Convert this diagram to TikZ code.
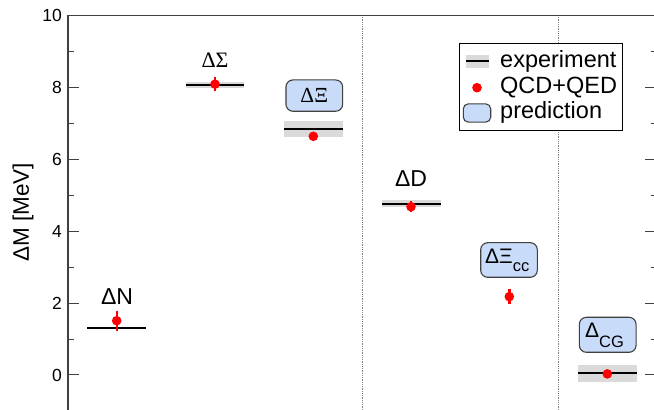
\documentclass[tikz,border=0pt]{standalone}
\usepackage{fontspec}
\setmainfont{Liberation Sans}
\newfontfamily\serifgr{Liberation Serif}
\definecolor{predblue}{HTML}{C8DCFA}
\definecolor{bandgray}{HTML}{DADADA}
\definecolor{axisgray}{HTML}{404040}
\definecolor{ptred}{HTML}{FF0000}
\tikzset{
  axisline/.style={axisgray, line width=1.5pt},
  tickline/.style={axisgray, line width=1pt},
  expline/.style={black, line width=2pt},
  band/.style={fill=bandgray, draw=none},
  errbar/.style={ptred, line width=2.4pt},
  ptdot/.style={fill=ptred, draw=none},
  predbox/.style={draw=black!75, line width=1.1pt, fill=predblue, rounded corners=7pt, inner sep=0pt},
  lbl/.style={font=\fontsize{23}{25}\selectfont, inner sep=0pt},
  ticklbl/.style={font=\fontsize{17.5}{20}\selectfont, anchor=east, inner sep=0pt},
  legtext/.style={font=\fontsize{23.5}{25}\selectfont, anchor=west, inner sep=0pt},
  divline/.style={gray, densely dotted, line width=0.8pt},
}
\begin{document}
\begin{tikzpicture}[x=1pt, y=1pt]
\useasboundingbox (0,0) rectangle (654,410);
\fill[white] (0,0) rectangle (654,410);
\begin{scope}
\clip (0,0) rectangle (654,410);
% divider lines
\draw[divline] (362.3,0) -- (362.3,394.5);
\draw[divline] (558.7,0) -- (558.7,394.5);
% axes
\draw[axisline] (68,0) -- (68,394.5) -- (656,394.5);
\begin{scope}[yshift=35pt, y=35.95pt]
  \foreach \v in {0,2,...,10} {
    \draw[tickline] (68,\v) -- (79,\v);
    \draw[tickline] (645,\v) -- (655,\v);
    \node[ticklbl] at (62,\v) {\v};
  }
  \foreach \v in {1,3,...,9} {
    \draw[tickline] (68,\v) -- (73.5,\v);
    \draw[tickline] (650.5,\v) -- (655,\v);
  }
  % Delta N
  \draw[expline] (87,1.30) -- (146,1.30);
  \draw[errbar] (116.7,1.23) -- (116.7,1.79);
  \fill[ptdot] (116.7,1.51) circle[radius=4.8pt];
  % Delta Sigma
  \fill[band] (185.7,7.99) rectangle (244.3,8.15);
  \draw[expline] (185.7,8.07) -- (244.3,8.07);
  \draw[errbar] (215,7.89) -- (215,8.29);
  \fill[ptdot] (215,8.09) circle[radius=4.8pt];
  % Delta Xi
  \fill[band] (284,6.63) rectangle (343,7.07);
  \draw[expline] (284,6.84) -- (343,6.84);
  \fill[ptdot] (313.3,6.64) circle[radius=4.8pt];
  % Delta D
  \fill[band] (382,4.68) rectangle (440.7,4.86);
  \draw[expline] (382,4.77) -- (440.7,4.77);
  \draw[errbar] (411,4.53) -- (411,4.83);
  \fill[ptdot] (411,4.68) circle[radius=4.8pt];
  % Delta Xi cc
  \draw[errbar] (509.3,1.98) -- (509.3,2.38);
  \fill[ptdot] (509.3,2.18) circle[radius=4.8pt];
  % Delta CG
  \fill[band] (578,-0.19) rectangle (636.7,0.28);
  \draw[expline] (578,0.06) -- (636.7,0.06);
  \fill[ptdot] (607.3,0.03) circle[radius=4.8pt];
\end{scope}
\end{scope}
% axis label
\node[lbl, font=\fontsize{22.5}{24}\selectfont, rotate=90] (ylab) at (23,197.5) {ΔM [MeV]};
% particle labels
\node[lbl] (lN) at (117,113.5) {ΔN};
\node[lbl, font=\fontsize{22}{24}\selectfont\serifgr] (lS) at (215,350) {ΔΣ};
\node[lbl] (lD) at (411,231) {ΔD};
\node[predbox, minimum width=56.7pt, minimum height=31.3pt] (bXi) at (314.3,314.4) {};
\node[lbl, font=\fontsize{21.5}{23}\selectfont\serifgr] (lXi) at (bXi.center) {ΔΞ};
\node[predbox, minimum width=56.6pt, minimum height=34.6pt] (bXicc) at (509,150) {};
\node[lbl, font=\fontsize{21}{23}\selectfont, anchor=base west] (lXicc) at (485,146) {ΔΞ\raisebox{-7.5pt}{\fontsize{16.5}{17}\selectfont cc}};
\node[predbox, minimum width=56.7pt, minimum height=35pt] (bCG) at (607.7,75.2) {};
\node[lbl, font=\fontsize{21}{23}\selectfont, anchor=base west] (lCG) at (585,72.3) {Δ\raisebox{-10pt}{\fontsize{16.5}{17}\selectfont CG}};
% legend
\draw[black, line width=1pt, fill=white] (459.3,279.3) rectangle (622.7,366.3);
\fill[band] (466,341.7) rectangle (488.7,355);
\draw[expline] (466,349) -- (488.7,349);
\node[legtext] (le1) at (500,349) {experiment};
\fill[ptdot] (477,322.3) circle[radius=4.8pt];
\node[legtext] (le2) at (500,322.3) {QCD+QED};
\node[predbox, minimum width=27.4pt, minimum height=18.3pt, rounded corners=5pt] (lbox) at (477,297) {};
\node[legtext] (le3) at (500,297.3) {prediction};
\end{tikzpicture}
\end{document}
